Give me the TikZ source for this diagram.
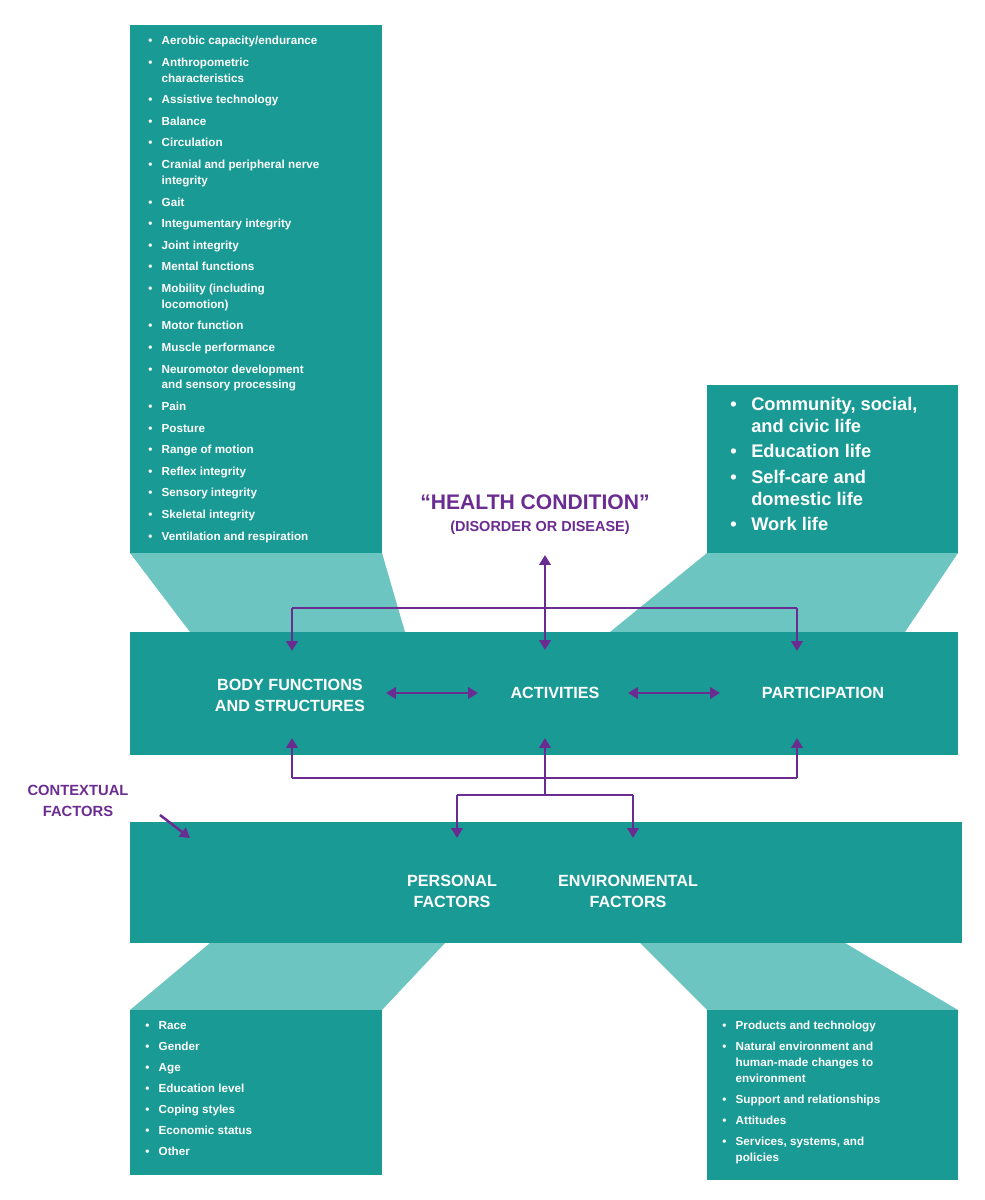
\documentclass[tikz,border=0pt]{standalone}
\usepackage{fontspec}
\setmainfont{Liberation Sans}
\usetikzlibrary{arrows.meta}
\definecolor{dk}{HTML}{1A9A94}
\definecolor{lt}{HTML}{6CC5C0}
\definecolor{pu}{HTML}{6B2C91}
\newcommand{\bi}[1]{\par\hangindent=1.15em\hangafter=1\noindent\makebox[1.15em][l]{\textbullet}#1\par\vspace{\itemgap}}
\newlength{\itemgap}\setlength{\itemgap}{3.6pt}
\tikzset{
 box/.style={fill=dk,draw=none},
 trap/.style={fill=lt,draw=none},
 lst/.style={text=white,font=\bfseries\fontsize{8.3}{11.3}\selectfont,align=left,anchor=north west,inner sep=0pt},
 lbl/.style={text=white,font=\bfseries\fontsize{11.5}{15}\selectfont,align=center},
 tip/.style={-{Triangle[length=7pt,width=8pt]}},
 arr/.style={draw=pu,line width=1.8pt,tip},
 darr/.style={draw=pu,line width=1.8pt,{Triangle[length=7pt,width=8pt]}-{Triangle[length=7pt,width=8pt]}},
 ln/.style={draw=pu,line width=1.8pt}
}
\begin{document}
\begin{tikzpicture}[x=0.025cm,y=-0.025cm]
\useasboundingbox (0,0) rectangle (984,1200);
% trapezoids
\fill[trap] (130,553) -- (382,553) -- (405,632) -- (190,632) -- cycle;
\fill[trap] (707,553) -- (958,553) -- (905,632) -- (610,632) -- cycle;
\fill[trap] (210,943) -- (445,943) -- (382,1010) -- (130,1010) -- cycle;
\fill[trap] (640,943) -- (845,943) -- (958,1010) -- (707,1010) -- cycle;
% boxes
\fill[box] (130,25) rectangle (382,553);
\fill[box] (707,385) rectangle (958,553);
\fill[box] (130,632) rectangle (958,755);
\fill[box] (130,822) rectangle (962,943);
\fill[box] (130,1010) rectangle (382,1175);
\fill[box] (707,1010) rectangle (958,1180);
% lists
\node[lst] (l1) at (148,36) {\parbox{6.0cm}{\setlength{\itemgap}{4.05pt}%
\bi{Aerobic capacity/endurance}
\bi{Anthropometric\\characteristics}
\bi{Assistive technology}
\bi{Balance}
\bi{Circulation}
\bi{Cranial and peripheral nerve\\integrity}
\bi{Gait}
\bi{Integumentary integrity}
\bi{Joint integrity}
\bi{Mental functions}
\bi{Mobility (including\\locomotion)}
\bi{Motor function}
\bi{Muscle performance}
\bi{Neuromotor development\\and sensory processing}
\bi{Pain}
\bi{Posture}
\bi{Range of motion}
\bi{Reflex integrity}
\bi{Sensory integrity}
\bi{Skeletal integrity}
\bi{Ventilation and respiration}}};
\node[lst,font=\bfseries\fontsize{13}{15.5}\selectfont] (l2) at (730,397) {\parbox{6.0cm}{\setlength{\itemgap}{2.6pt}%
\bi{Community, social,\\and civic life}
\bi{Education life}
\bi{Self-care and\\domestic life}
\bi{Work life}}};
\node[lst] (l3) at (145,1021) {\parbox{6cm}{%
\bi{Race}
\bi{Gender}
\bi{Age}
\bi{Education level}
\bi{Coping styles}
\bi{Economic status}
\bi{Other}}};
\node[lst] (l4) at (722,1021) {\parbox{6cm}{%
\bi{Products and technology}
\bi{Natural environment and\\human-made changes to\\environment}
\bi{Support and relationships}
\bi{Attitudes}
\bi{Services, systems, and\\policies}}};
% labels
\node[lbl] (bf) at (290,695) {BODY FUNCTIONS\\AND STRUCTURES};
\node[lbl] (ac) at (555,693) {ACTIVITIES};
\node[lbl] (pa) at (823,693) {PARTICIPATION};
\node[lbl] (pf) at (452,891) {PERSONAL\\FACTORS};
\node[lbl] (ef) at (628,891) {ENVIRONMENTAL\\FACTORS};
\node[text=pu,font=\bfseries\fontsize{15}{16}\selectfont] (hc) at (535,502) {“HEALTH CONDITION”};
\node[text=pu,font=\bfseries\fontsize{10.3}{12}\selectfont] (dd) at (540,528) {(DISORDER OR DISEASE)};
\node[text=pu,font=\bfseries\fontsize{10.5}{15}\selectfont,align=center] (cf) at (78,801) {CONTEXTUAL\\FACTORS};
% connectors
\coordinate (t1) at (292,608); \coordinate (t2) at (797,608); \coordinate (tc) at (545,608);
\coordinate (hb) at (545,555);
\coordinate (b1) at (292,778); \coordinate (b2) at (797,778);
\coordinate (c0) at (545,795); \coordinate (c1) at (457,795); \coordinate (c2) at (633,795);
\draw[ln] (t1) -- (t2);
\draw[arr] (t1) -- (292,651);
\draw[arr] (t2) -- (797,651);
\draw[arr] (tc) -- (545,650);
\draw[arr] (tc) -- (hb);
\draw[ln] (b1) -- (b2);
\draw[arr] (b1) -- (292,738);
\draw[arr] (b2) -- (797,738);
\draw[arr] (c0) -- (545,738);
\draw[ln] (c1) -- (c2);
\draw[arr] (c1) -- (457,838);
\draw[arr] (c2) -- (633,838);
\draw[darr] (386,693) -- (478,693);
\draw[darr] (628,693) -- (720,693);
\draw[arr] (160,815) -- (190,838);
\end{tikzpicture}
\end{document}
